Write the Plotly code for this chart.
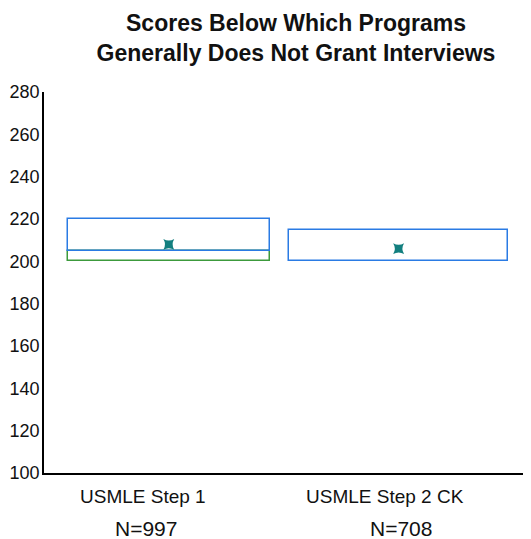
import plotly.graph_objects as go

# ---- data ----
categories = ["USMLE Step 1", "USMLE Step 2 CK"]
n_labels = ["N=997", "N=708"]
q1 = [200, 200]
median = [205, 200]
q3 = [220, 215]
mean = [208, 206]

title_lines = ["Scores Below Which Programs", "Generally Does Not Grant Interviews"]
y_ticks = [100, 120, 140, 160, 180, 200, 220, 240, 260, 280]

FONT = "Arial, 'Liberation Sans', sans-serif"
BLUE = "#2a7be4"
GREEN = "#3c9a3c"
TEAL = "#127f7f"

OFF = 8  # page body margin
W, H = 531 - OFF, 539 - OFF
L, R, T, B = 44 - OFF, 0, 92 - OFF, 66

xpos = list(range(len(categories)))
lower_h = [m - a for a, m in zip(q1, median)]
upper_h = [b - m for m, b in zip(median, q3)]

fig = go.Figure()
# lower half of box (Q1 -> median), green
fig.add_trace(go.Bar(
    x=[x for x, h in zip(xpos, lower_h) if h > 0],
    y=[h for h in lower_h if h > 0],
    base=[a for a, h in zip(q1, lower_h) if h > 0],
    width=0.88,
    marker=dict(color="rgba(0,0,0,0)", line=dict(color=GREEN, width=1.5)),
    showlegend=False, hoverinfo="skip",
))
# upper half of box (median -> Q3), blue
fig.add_trace(go.Bar(
    x=xpos, y=upper_h, base=median,
    width=[0.88, 0.95],
    marker=dict(color="rgba(0,0,0,0)", line=dict(color=BLUE, width=1.5)),
    showlegend=False, hoverinfo="skip",
))
# means
fig.add_trace(go.Scatter(
    x=xpos, y=mean, mode="markers",
    marker=dict(symbol="star-diamond", angle=45, size=11, color=TEAL),
    showlegend=False,
))

# label positions in reference-page pixels
label_x_px = [143, 385]
n_x_px = [146, 401]
pw, ph = W - L - R, H - T - B
ann = []
def px_to_paper(xp, yp):
    xf = xp - OFF
    yf = yp - OFF
    return (xf - L) / pw, (H - yf - B) / ph

for i in range(len(categories)):
    x1, y1 = px_to_paper(label_x_px[i], 496)
    x2, y2 = px_to_paper(n_x_px[i], 528)
    ann.append(dict(text=categories[i], x=x1, y=y1,
                    xref="paper", yref="paper", showarrow=False,
                    xanchor="center", yanchor="middle",
                    font=dict(family=FONT, size=19, color="#111")))
    ann.append(dict(text=n_labels[i], x=x2, y=y2,
                    xref="paper", yref="paper", showarrow=False,
                    xanchor="center", yanchor="middle",
                    height=18, borderpad=0, valign="middle",
                    font=dict(family=FONT, size=21, color="#111")))

fig.update_layout(
    width=W, height=H,
    margin=dict(l=L, r=R, t=T, b=B, autoexpand=False),
    paper_bgcolor="white", plot_bgcolor="white",
    bargap=0, barmode="overlay",
    title=dict(text="<b>" + title_lines[0] + "</b><br><b>" + title_lines[1] + "</b>",
               x=(296 - OFF) / W, xanchor="center", xref="container",
               y=1 - 23 / H, yanchor="top", yref="container",
               font=dict(family=FONT, size=23, color="#111")),
    xaxis=dict(range=[-0.543, 1.576], showticklabels=False, ticks="",
               showgrid=False, zeroline=False, showline=True,
               linecolor="black", linewidth=1.5, fixedrange=True),
    yaxis=dict(range=[100, 280], tickvals=y_ticks, ticks="", ticklen=0,
               showgrid=False, zeroline=False, showline=True,
               linecolor="black", linewidth=1.5, ticklabelstandoff=-1,
               tickfont=dict(family=FONT, size=18, color="#111")),
    annotations=ann,
)

fig.write_html("out.html")
